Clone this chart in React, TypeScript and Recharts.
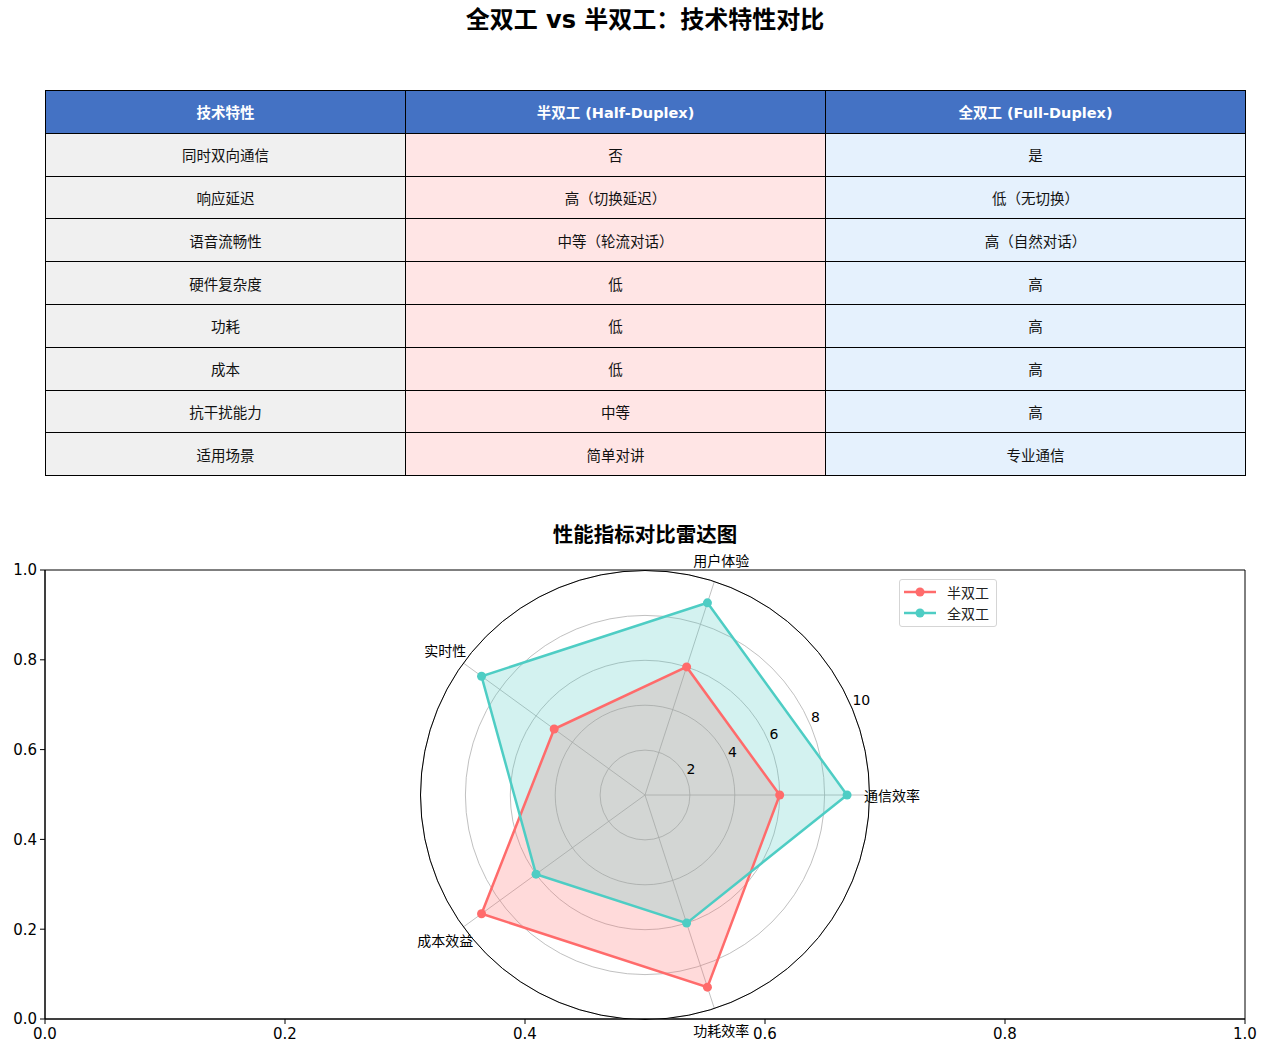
import React from "react";
import {
  Legend,
  Line,
  LineChart,
  PolarAngleAxis,
  PolarGrid,
  PolarRadiusAxis,
  Radar,
  RadarChart,
  ReferenceArea,
  XAxis,
  YAxis,
} from "recharts";

// table content
const tableHeaders = ["技术特性", "半双工 (Half-Duplex)", "全双工 (Full-Duplex)"];
const featureNames = [
  "同时双向通信",
  "响应延迟",
  "语音流畅性",
  "硬件复杂度",
  "功耗",
  "成本",
  "抗干扰能力",
  "适用场景",
];
const halfDuplexTraits = ["否", "高（切换延迟）", "中等（轮流对话）", "低", "低", "低", "中等", "简单对讲"];
const fullDuplexTraits = ["是", "低（无切换）", "高（自然对话）", "高", "高", "高", "高", "专业通信"];

// radar content (counter-clockwise from 3 o'clock)
const metrics = ["通信效率", "用户体验", "实时性", "成本效益", "功耗效率"];
const halfDuplexScores = [6, 6, 5, 9, 9];
const fullDuplexScores = [9, 9, 9, 6, 6];
const radiusTicks = [0, 2, 4, 6, 8, 10];
const frameTicks = [0, 0.2, 0.4, 0.6, 0.8, 1];

const HALF_COLOR = "#FF6B6B";
const FULL_COLOR = "#4ECDC4";
const FONT = "'DejaVu Sans', 'Noto Sans CJK SC', sans-serif";
const CJK = "'Noto Sans CJK SC', 'DejaVu Sans', sans-serif";

// recharts walks the circle clockwise, so feed the metrics in reverse after the first
const radarData = metrics
  .map((_, i) => (metrics.length - i) % metrics.length)
  .map((k) => ({
    metric: metrics[k],
    half: halfDuplexScores[k],
    full: fullDuplexScores[k],
  }));

// the frame axes need some rows to lay out their ticks; nothing is drawn from them
const frameData = frameTicks.map((v) => ({ x: v, y: v }));

const RadiusTick = ({ x, y, payload }: any) => {
  if (!payload || payload.value === 0) return null;
  return (
    <text x={x} y={y - 4} fill="#000" fontFamily={FONT} fontSize={14} textAnchor="start">
      {payload.value}
    </text>
  );
};

const AngleTick = ({ x, y, payload }: any) => (
  <text
    x={x}
    y={y}
    fill="#000"
    fontFamily={CJK}
    fontSize={14}
    textAnchor="middle"
    dominantBaseline="central"
  >
    {payload.value}
  </text>
);

const LegendBox = () => (
  <div
    style={{
      width: 96,
      border: "1px solid #d5d5d5",
      borderRadius: 3,
      background: "rgba(255,255,255,0.85)",
      padding: "1px 0 3px",
      fontFamily: CJK,
      fontSize: 14,
    }}
  >
    {[
      { name: "半双工", color: HALF_COLOR },
      { name: "全双工", color: FULL_COLOR },
    ].map((item) => (
      <div key={item.name} style={{ display: "flex", alignItems: "center", height: 21 }}>
        <svg width={47} height={12}>
          <line x1={4} x2={36} y1={6} y2={6} stroke={item.color} strokeWidth={2.5} />
          <circle cx={20} cy={6} r={4.5} fill={item.color} />
        </svg>
        <span style={{ color: "#222" }}>{item.name}</span>
      </div>
    ))}
  </div>
);

const cellBase: React.CSSProperties = {
  border: "1px solid #000",
  textAlign: "center",
  padding: 0,
  fontFamily: FONT,
  fontSize: 14.5,
  color: "#111",
};

export default function App() {
  return (
    <div style={{ position: "absolute", left: 0, top: 0, width: 1268, height: 1055, background: "#fff" }}>
      <div
        style={{
          position: "absolute",
          top: 4,
          left: 0,
          width: 1290,
          textAlign: "center",
          fontFamily: FONT,
          fontWeight: 700,
          fontSize: 24,
          lineHeight: "32px",
        }}
      >
        全双工 vs 半双工：技术特性对比
      </div>

      <table
        style={{
          position: "absolute",
          left: 45,
          top: 90,
          width: 1201,
          borderCollapse: "collapse",
          tableLayout: "fixed",
        }}
      >
        <colgroup>
          <col style={{ width: 360 }} />
          <col style={{ width: 420 }} />
          <col style={{ width: 420 }} />
        </colgroup>
        <thead>
          <tr style={{ height: 42.8 }}>
            {tableHeaders.map((h) => (
              <th key={h} style={{ ...cellBase, background: "#4472C4", color: "#fff", fontWeight: 700 }}>
                {h}
              </th>
            ))}
          </tr>
        </thead>
        <tbody>
          {featureNames.map((f, i) => (
            <tr key={f} style={{ height: 42.8 }}>
              <td style={{ ...cellBase, background: "#F0F0F0" }}>{f}</td>
              <td style={{ ...cellBase, background: "#FFE5E5" }}>{halfDuplexTraits[i]}</td>
              <td style={{ ...cellBase, background: "#E5F1FD" }}>{fullDuplexTraits[i]}</td>
            </tr>
          ))}
        </tbody>
      </table>

      <div
        style={{
          position: "absolute",
          top: 518,
          left: 345,
          width: 600,
          textAlign: "center",
          fontFamily: CJK,
          fontWeight: 700,
          fontSize: 20.5,
          lineHeight: "30px",
        }}
      >
        性能指标对比雷达图
      </div>

      {/* empty cartesian frame behind the radar */}
      <div style={{ position: "absolute", left: 0, top: 540 }}>
        <LineChart width={1268} height={515} data={frameData} margin={{ top: 30, right: 23, bottom: 6, left: 0 }}>
          <XAxis
            type="number"
            dataKey="x"
            domain={[0, 1]}
            ticks={frameTicks}
            tickFormatter={(v: number) => v.toFixed(1)}
            height={30}
            tickSize={5}
            stroke="#000"
            tick={{ fill: "#000", fontSize: 15, fontFamily: FONT, dy: 2 }}
          />
          <YAxis
            type="number"
            dataKey="y"
            domain={[0, 1]}
            ticks={frameTicks}
            tickFormatter={(v: number) => v.toFixed(1)}
            width={45}
            tickSize={5}
            stroke="#000"
            tick={{ fill: "#000", fontSize: 15, fontFamily: FONT, dx: -1 }}
          />
          <ReferenceArea x1={0} x2={1} y1={0} y2={1} fill="none" stroke="#000" strokeWidth={1} />
          <Line dataKey="y" stroke="none" dot={false} activeDot={false} isAnimationActive={false} />
        </LineChart>
      </div>

      <div style={{ position: "absolute", left: 345, top: 545 }}>
        <RadarChart
          width={700}
          height={500}
          cx={300}
          cy={250}
          outerRadius={224.5}
          startAngle={0}
          endAngle={-360}
          data={radarData}
          margin={{ top: 0, right: 0, bottom: 0, left: 0 }}
        >
          <PolarGrid gridType="circle" stroke="#b0b0b0" strokeWidth={0.8} />
          <PolarGrid gridType="circle" polarRadius={[224.5]} polarAngles={[]} stroke="#000" strokeWidth={1} />
          <PolarAngleAxis dataKey="metric" tickSize={22.5} tickLine={false} axisLine={false} tick={<AngleTick />} />
          <PolarRadiusAxis
            angle={22.5}
            domain={[0, 10]}
            ticks={radiusTicks as any}
            tickCount={6}
            axisLine={false}
            tickLine={false}
            tick={<RadiusTick />}
          />
          {/* fills first, outlines on top (like matplotlib's zorder) */}
          <Radar
            dataKey="half"
            stroke="none"
            fill={HALF_COLOR}
            fillOpacity={0.25}
            dot={false}
            legendType="none"
            isAnimationActive={false}
          />
          <Radar
            dataKey="full"
            stroke="none"
            fill={FULL_COLOR}
            fillOpacity={0.25}
            dot={false}
            legendType="none"
            isAnimationActive={false}
          />
          <Radar
            name="半双工"
            dataKey="half"
            stroke={HALF_COLOR}
            strokeWidth={2.5}
            fill="none"
            dot={{ r: 4.5, fill: HALF_COLOR, stroke: "none", fillOpacity: 1 }}
            isAnimationActive={false}
          />
          <Radar
            name="全双工"
            dataKey="full"
            stroke={FULL_COLOR}
            strokeWidth={2.5}
            fill="none"
            dot={{ r: 4.5, fill: FULL_COLOR, stroke: "none", fillOpacity: 1 }}
            isAnimationActive={false}
          />
          <Legend
            content={<LegendBox />}
            wrapperStyle={{ position: "absolute", left: 554, top: 34, width: 98, bottom: "auto" }}
          />
        </RadarChart>
      </div>
    </div>
  );
}
